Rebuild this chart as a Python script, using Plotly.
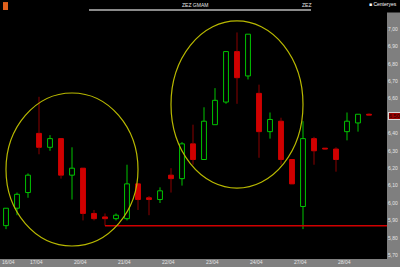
import plotly.graph_objects as go

# ---- data ----
opens  = [5.87, 5.97, 6.06, 6.40, 6.32, 6.37, 6.16, 6.20, 5.94, 5.92, 5.91, 5.91, 6.11, 6.03, 6.02, 6.16, 6.14,
          6.34, 6.25, 6.45, 6.58, 6.87, 6.73, 6.63, 6.41, 6.47, 6.25, 5.98, 6.37, 6.315, 6.31, 6.41, 6.46, 6.51]
highs  = [5.97, 6.06, 6.17, 6.61, 6.39, 6.37, 6.32, 6.20, 5.96, 5.94, 5.94, 6.22, 6.11, 6.04, 6.09, 6.20, 6.35,
          6.45, 6.55, 6.66, 6.87, 6.98, 6.97, 6.68, 6.52, 6.49, 6.25, 6.47, 6.38, 6.315, 6.32, 6.52, 6.51, 6.515]
lows   = [5.85, 5.93, 6.03, 6.28, 6.30, 6.14, 6.02, 5.90, 5.90, 5.87, 5.90, 5.90, 5.96, 5.93, 6.00, 6.06, 6.10,
          6.22, 6.25, 6.45, 6.57, 6.57, 6.71, 6.26, 6.37, 6.22, 6.11, 5.85, 6.22, 6.305, 6.18, 6.36, 6.41, 6.50]
closes = [5.97, 6.05, 6.16, 6.32, 6.37, 6.16, 6.20, 5.94, 5.91, 5.91, 5.93, 6.11, 6.02, 6.02, 6.07, 6.14, 6.34,
          6.25, 6.47, 6.59, 6.87, 6.72, 6.97, 6.41, 6.48, 6.25, 6.11, 6.37, 6.30, 6.31, 6.25, 6.47, 6.51, 6.505]
date_labels = ["16/04", "17/04", "20/04", "21/04", "22/04", "23/04", "24/04", "27/04", "28/04"]
date_index = [0, 3, 7, 11, 15, 19, 23, 27, 31]
price_ticks = [7.00, 6.90, 6.80, 6.70, 6.60, 6.50, 6.40, 6.30, 6.20, 6.10, 6.00, 5.90, 5.80, 5.70]
support_level = 5.87
last_price = 6.50
title_main = "ZEZ GMAM"
title_code = "ZEZ"
legend_text = "■ Centeryes"

GREEN = "#00c400"
RED = "#d00000"
RED_WICK = "#8c0000"
YELLOW = "#b8b800"
GRAY = "#7f7f7f"
LABEL = "#e6e6e6"
FONT = "Liberation Sans"

n = len(opens)
xs = list(range(n))
up = [c >= o for o, c in zip(opens, closes)]

def wick_xy(is_up):
    wx, wy = [], []
    for i in xs:
        if up[i] != is_up:
            continue
        top = max(opens[i], closes[i])
        bot = min(opens[i], closes[i])
        if highs[i] > top:
            wx += [i, i, None]; wy += [top, highs[i], None]
        if lows[i] < bot:
            wx += [i, i, None]; wy += [lows[i], bot, None]
    return wx, wy

fig = go.Figure()
for is_up, col in [(True, GREEN), (False, RED_WICK)]:
    wx, wy = wick_xy(is_up)
    fig.add_trace(go.Scatter(x=wx, y=wy, mode="lines", line=dict(color=col, width=1),
                             hoverinfo="skip", showlegend=False))

for is_up in [True, False]:
    idx = [i for i in xs if up[i] == is_up]
    base = [min(opens[i], closes[i]) for i in idx]
    height = [max(abs(closes[i] - opens[i]), 0.004) for i in idx]
    fig.add_trace(go.Bar(
        x=idx, y=height, base=base, width=0.44,
        marker=dict(color="#000000" if is_up else RED,
                    line=dict(color=GREEN if is_up else RED, width=1)),
        showlegend=False, hoverinfo="skip"))

shapes = [
    # support line
    dict(type="line", xref="x", yref="y", x0=9, x1=36, y0=support_level, y1=support_level,
         line=dict(color=RED, width=1.5), layer="above"),
    # highlight ellipses
    dict(type="circle", xref="x", yref="y", x0=0.0, x1=12.0, y0=5.753, y1=6.632,
         line=dict(color=YELLOW, width=1.2), layer="above"),
    dict(type="circle", xref="x", yref="y", x0=15.0, x1=27.0, y0=6.086, y1=7.046,
         line=dict(color=YELLOW, width=1.2), layer="above"),
    # right axis strip
    dict(type="rect", xref="paper", yref="paper", x0=1.0, x1=1.04, y0=-0.01, y1=0.99,
         fillcolor=GRAY, line=dict(width=0), layer="below"),
    # bottom axis strip
    dict(type="rect", xref="paper", yref="paper", x0=0, x1=1.04, y0=-0.04, y1=-0.004,
         fillcolor=GRAY, line=dict(width=0), layer="below"),
    # top title line
    dict(type="line", xref="paper", yref="paper", x0=89 / 387, x1=311 / 387, y0=1.0, y1=1.0,
         line=dict(color="#8a8a8a", width=2), layer="below"),
    # orange icon
    dict(type="rect", xref="paper", yref="paper", x0=3 / 387, x1=8 / 387, y0=1.0, y1=1.032,
         fillcolor="#e0601c", line=dict(width=0), layer="below"),
]

annotations = [
    dict(text=title_main, xref="paper", yref="paper", x=195 / 387, y=1.0, xanchor="center",
         yanchor="bottom", showarrow=False, font=dict(size=5, color=LABEL, family=FONT)),
    dict(text=title_code, xref="paper", yref="paper", x=306 / 387, y=1.0, xanchor="center",
         yanchor="bottom", showarrow=False, font=dict(size=5, color=LABEL, family=FONT)),
    dict(text=legend_text, xref="paper", yref="paper", x=399 / 387, y=1.005, xanchor="right",
         yanchor="bottom", showarrow=False, font=dict(size=5, color="#ffffff", family=FONT)),
    dict(text=f"{last_price:.2f}".replace(".", ","), xref="paper", yref="y", x=1.002, y=last_price,
         xanchor="left", yanchor="middle", showarrow=False, bgcolor="#9a0000",
         bordercolor="#d8d8d8", borderwidth=1, borderpad=0,
         font=dict(size=5.5, color="#1a0000", family=FONT)),
]

# label offsets (layout only): first label nudged right so it stays inside the chart
label_offsets = [0.2] + [-0.25] * (len(date_index) - 1)

fig.update_layout(
    width=400, height=267,
    margin=dict(l=0, r=13, t=10, b=9, autoexpand=False),
    paper_bgcolor="#000000", plot_bgcolor="#000000",
    barmode="overlay", showlegend=False,
    shapes=shapes, annotations=annotations,
    xaxis=dict(range=[-0.545, 34.636], showgrid=False, zeroline=False, automargin=False,
               tickmode="array", tickvals=[i + d for i, d in zip(date_index, label_offsets)],
               ticktext=date_labels,
               ticks="", tickfont=dict(size=5, color=LABEL, family=FONT),
               ticklabeloverflow="allow",
               showline=False, fixedrange=True),
    yaxis=dict(range=[5.684, 7.109], side="right", showgrid=False, zeroline=False, automargin=False,
               tickmode="array", tickvals=price_ticks,
               ticktext=["" if abs(v - last_price) < 1e-9 else f"{v:.2f}".replace(".", ",")
                         for v in price_ticks],
               ticks="", ticklen=0,
               tickfont=dict(size=5, color=LABEL, family=FONT),
               ticklabeloverflow="allow",
               showline=False, fixedrange=True),
)

fig.write_html("out.html")
